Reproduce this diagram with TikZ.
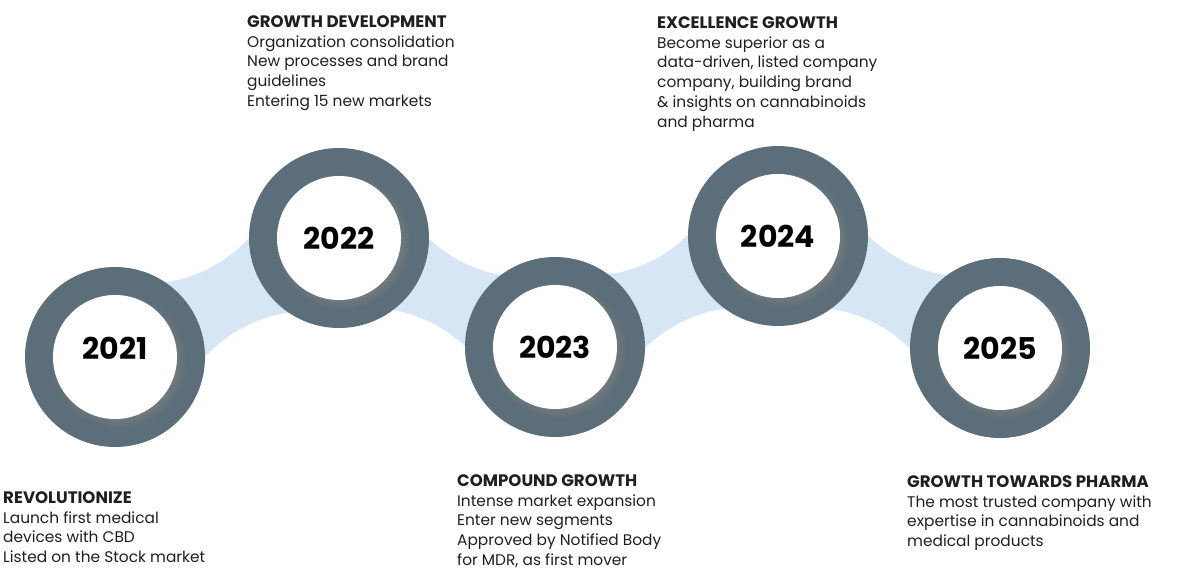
\documentclass[tikz,border=0pt]{standalone}
\usepackage{fontspec}
\setmainfont{Poppins}
\usepackage{tikz}
\usetikzlibrary{calc,shadows}
\definecolor{ringc}{HTML}{5B6E79}
\definecolor{bandc}{HTML}{D7E6F4}
\newcommand{\hd}[1]{{\fontsize{16.6}{19.7}\selectfont\bfseries #1}}
\tikzset{
  ringnode/.style={circle, fill=ringc, minimum size=180pt, inner sep=0pt},
  disc/.style={circle, fill=white, minimum size=124pt, inner sep=0pt,
    circular drop shadow={shadow xshift=3pt, shadow yshift=-3pt, opacity=.6}},
  yr/.style={font=\fontsize{30}{30}\selectfont\bfseries, text=black, inner sep=0pt},
  lab/.style={align=left, inner sep=0pt, anchor=north west, text=black!88,
    font=\fontsize{15.4}{19.7}\selectfont},
}

\begin{document}
\begin{tikzpicture}[x=1pt,y=-1pt]
  \useasboundingbox (0,0) rectangle (1181,572);
  \coordinate (c21) at (115,357);
  \coordinate (c22) at (339,238);
  \coordinate (c23) at (555,347);
  \coordinate (c24) at (778,236);
  \coordinate (c25) at (1000,348);
  % light bands between neighbours, edges are arcs of two outer circles
  \foreach \a/\b in {c21/c22,c22/c23,c23/c24,c24/c25}{
    \coordinate (m) at ($(\a)!.5!(\b)$);
    \coordinate (cu) at ($(m)!174pt!90:(\b)$);
    \coordinate (cl) at ($(m)!174pt!-90:(\b)$);
    \coordinate (pau) at ($(cu)!140pt!(\a)$);
    \coordinate (pbu) at ($(cu)!140pt!(\b)$);
    \coordinate (pal) at ($(cl)!140pt!(\a)$);
    \coordinate (pbl) at ($(cl)!140pt!(\b)$);
    \fill[bandc] let \p1=($(pau)-(cu)$), \p2=($(pbu)-(cu)$),
        \p3=($(pbl)-(cl)$), \p4=($(pal)-(cl)$),
        \n1={atan2(\y1,\x1)}, \n2={\n1+mod(atan2(\y2,\x2)-\n1+540,360)-180},
        \n3={atan2(\y3,\x3)}, \n4={\n3+mod(atan2(\y4,\x4)-\n3+540,360)-180} in
      (\a) -- (pau) arc[start angle=\n1, end angle=\n2, radius=140pt]
      -- (\b) -- (pbl) arc[start angle=\n3, end angle=\n4, radius=140pt] -- cycle;
  }
  \foreach \y in {21,22,23,24,25}{
    \node[ringnode] (r\y) at (c\y) {};
    \node[disc] (d\y) at (r\y.center) {};
  }
  \node[yr] (y21) at ($(d21.center)+(0,-9)$) {2021};
  \node[yr] (y22) at (d22.center) {2022};
  \node[yr] (y23) at (d23.center) {2023};
  \node[yr] (y24) at (d24.center) {2024};
  \node[yr] (y25) at (d25.center) {2025};
  % texts
  \node[lab] (t21) at (3,491.5) {\hd{REVOLUTIONIZE}\\Launch first medical\\devices with CBD\\Listed on the Stock market};
  \node[lab] (t22) at (247,15.5) {\hd{GROWTH DEVELOPMENT}\\Organization consolidation\\New processes and brand\\guidelines\\Entering 15 new markets};
  \node[lab] (t23) at (457,474.5) {\hd{COMPOUND GROWTH}\\Intense market expansion\\Enter new segments\\Approved by Notified Body\\for MDR, as first mover};
  \node[lab] (t24) at (657,16.5) {\hd{EXCELLENCE GROWTH}\\Become superior as a\\data-driven, listed company\\company, building brand\\\& insights on cannabinoids\\and pharma};
  \node[lab] (t25) at (907,475.5) {\hd{GROWTH TOWARDS PHARMA}\\The most trusted company with\\expertise in cannabinoids and\\medical products};
\end{tikzpicture}
\end{document}
